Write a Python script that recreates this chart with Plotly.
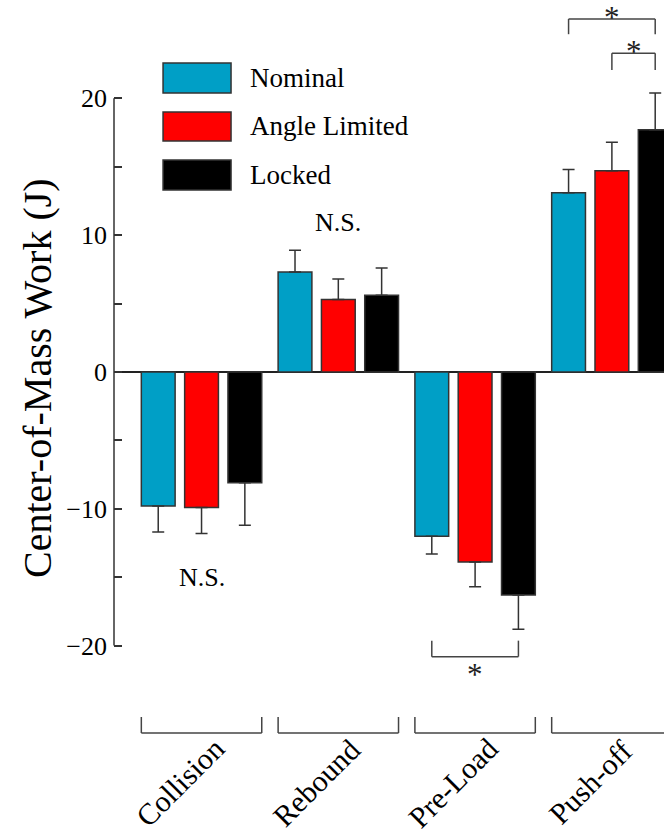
import plotly.graph_objects as go

# ---- data -------------------------------------------------------------
phases = ["Collision", "Rebound", "Pre-Load", "Push-off"]

nominal = [-9.8, 7.3, -12.0, 13.1]
nominal_sd = [1.9, 1.6, 1.3, 1.7]

angle_limited = [-9.9, 5.3, -13.9, 14.7]
angle_limited_sd = [1.9, 1.5, 1.8, 2.1]

locked = [-8.1, 5.6, -16.3, 17.7]
locked_sd = [3.1, 2.0, 2.5, 2.7]

y_ticks = [-20, -10, 0, 10, 20]
y_minor = [-15, -5, 5, 15]

# ---- style ------------------------------------------------------------
FONT = "Liberation Serif"
C_NOM = "#009FC6"
C_ANG = "#FF0000"
C_LOCK = "#000000"
EDGE = "#333333"
BRACKET = "#444444"

BARGAP = 0.05
GROUPGAP = 0.22
PITCH = (1 - BARGAP) / 3          # spacing between bar centres in a group
HALF_GROUP = 1.5 * PITCH - PITCH * GROUPGAP / 2

X_RANGE = [-0.64, 3.381]
Y_RANGE = [-33.92, 27.19]

x = list(range(len(phases)))


def outward(vals, sd):
    """Error bars point away from zero only."""
    up = [s if v >= 0 else 0 for v, s in zip(vals, sd)]
    down = [s if v < 0 else 0 for v, s in zip(vals, sd)]
    return dict(type="data", symmetric=False, array=up, arrayminus=down,
                color=EDGE, thickness=1.5, width=6)


fig = go.Figure()
for name, vals, sd, col in [("Nominal", nominal, nominal_sd, C_NOM),
                            ("Angle Limited", angle_limited, angle_limited_sd, C_ANG),
                            ("Locked", locked, locked_sd, C_LOCK)]:
    fig.add_trace(go.Bar(x=x, y=vals, name=name, marker_color=col,
                         marker_line=dict(color=EDGE, width=1.5),
                         error_y=outward(vals, sd), showlegend=False))

shapes = []
annotations = []


def line(x0, y0, x1, y1, xref="x", yref="y", color=BRACKET, width=1.5):
    shapes.append(dict(type="line", x0=x0, y0=y0, x1=x1, y1=y1, xref=xref,
                       yref=yref, line=dict(color=color, width=width)))


def bracket(xa, xb, y_bar, y_tip):
    line(xa, y_bar, xb, y_bar)
    line(xa, y_bar, xa, y_tip)
    line(xb, y_bar, xb, y_tip)


# y axis spine, limited to the labelled span
line(0, y_ticks[0], 0, y_ticks[-1], xref="paper", color=EDGE, width=1.5)

# group brackets and rotated phase names under the plot
for i, ph in enumerate(phases):
    bracket(i - HALF_GROUP, i + HALF_GROUP, -26.39, -25.22)
    annotations.append(dict(x=i - 0.16, y=-30.0, text=ph, textangle=-45,
                            showarrow=False, xanchor="center", yanchor="middle",
                            font=dict(family=FONT, size=30, color="black")))

# significance markers
bracket(3 - PITCH, 3 + PITCH, 25.80, 24.69)
bracket(3, 3 + PITCH, 23.30, 22.08)
bracket(2 - PITCH, 2 + PITCH, -20.81, -19.64)
for xs, ys in [(3, 25.9), (3 + PITCH / 2, 23.45), (2, -22.1)]:
    annotations.append(dict(x=xs, y=ys, text="*", showarrow=False,
                            xanchor="center", yanchor="middle",
                            font=dict(family=FONT, size=31, color="#222")))
for xs, ys in [(1, 10.96), (0, -14.99)]:
    annotations.append(dict(x=xs, y=ys, text="N.S.", showarrow=False,
                            xanchor="center", yanchor="middle",
                            font=dict(family=FONT, size=26, color="black")))

# legend drawn as large swatches
leg_x0, leg_x1, leg_text_x = -0.2814, 0.2157, 0.34
for (lab, col), (ytop, ybot) in zip(
        [("Nominal", C_NOM), ("Angle Limited", C_ANG), ("Locked", C_LOCK)],
        [(22.59, 20.39), (19.0, 16.89), (15.5, 13.3)]):
    shapes.append(dict(type="rect", x0=leg_x0, x1=leg_x1, y0=ybot, y1=ytop,
                       xref="x", yref="y", fillcolor=col,
                       line=dict(color=EDGE, width=1.5)))
    annotations.append(dict(x=leg_text_x, y=(ytop + ybot) / 2, text=lab,
                            showarrow=False, xanchor="left", yanchor="middle",
                            font=dict(family=FONT, size=27, color="black")))

# y-axis title
annotations.append(dict(x=-0.138, y=0.548, xref="paper", yref="paper",
                        text="Center-of-Mass Work (J)", textangle=-90,
                        showarrow=False, xanchor="center", yanchor="middle",
                        font=dict(family=FONT, size=40, color="black")))

fig.update_layout(
    width=664, height=836,
    margin=dict(l=114, r=0, t=0, b=0),
    paper_bgcolor="white", plot_bgcolor="white",
    barmode="group", bargap=BARGAP, bargroupgap=GROUPGAP,
    showlegend=False,
    shapes=shapes, annotations=annotations,
    xaxis=dict(range=X_RANGE, showticklabels=False, showgrid=False,
               zeroline=False, showline=False, ticks=""),
    yaxis=dict(range=Y_RANGE, tickmode="array", tickvals=y_ticks,
               ticks="inside", ticklen=8, tickwidth=1.5, tickcolor=EDGE,
               showgrid=False, showline=False,
               zeroline=True, zerolinecolor="#222222", zerolinewidth=2,
               ticklabelstandoff=6,
               tickfont=dict(family=FONT, size=26, color="black"),
               minor=dict(tickmode="array", tickvals=y_minor, ticks="inside",
                          ticklen=8, tickwidth=1.5, tickcolor=EDGE)),
)

fig.write_html("out.html")
